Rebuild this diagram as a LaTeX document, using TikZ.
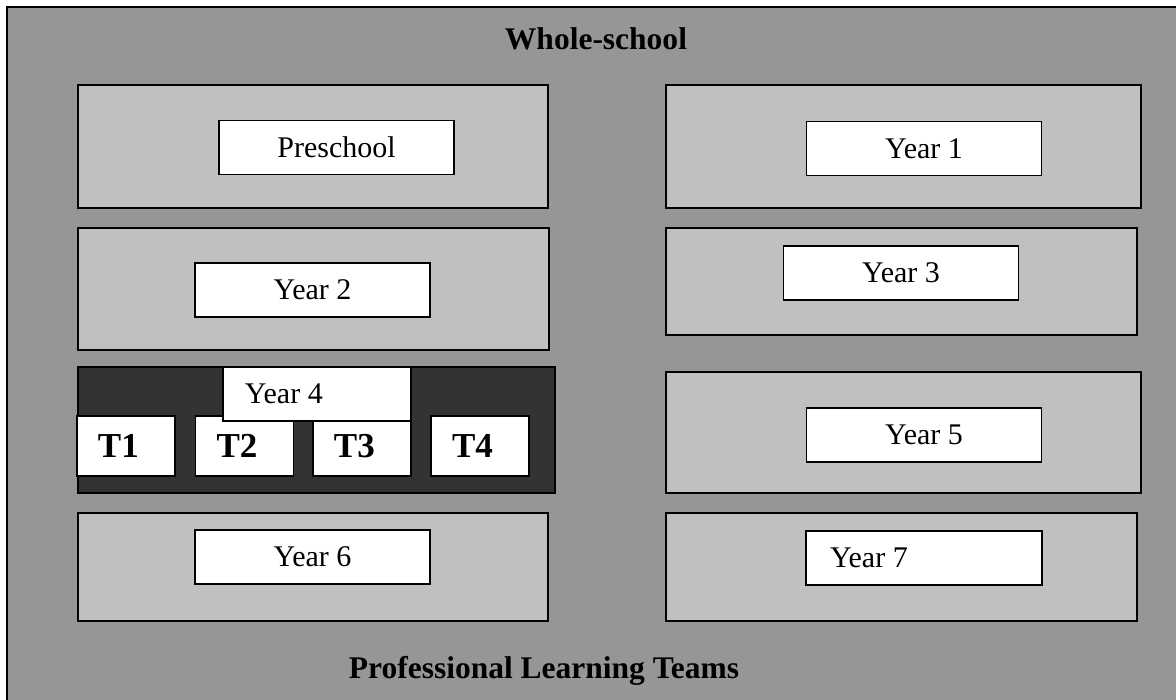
\documentclass[tikz,border=0pt]{standalone}
\usepackage{fontspec}
\setmainfont{Liberation Serif}
\definecolor{schoolgray}{RGB}{150,150,150}
\definecolor{teamgray}{RGB}{192,192,192}
\definecolor{yearfour}{RGB}{51,51,51}

\begin{document}
\begin{tikzpicture}[x=0.4pt,y=-0.4pt,
    team node/.style={rectangle,draw,fill=teamgray,line width=0.8pt,inner sep=0pt},
    label node/.style={rectangle,draw,fill=white,line width=0.6pt,minimum width=94pt,minimum height=21.6pt,inner sep=0pt,font=\fontsize{12}{14}\selectfont},
    left label/.style={label node,text width=75.2pt,inner xsep=9.6pt,align=flush left},
    t node/.style={rectangle,draw,fill=white,line width=0.6pt,minimum height=24pt,text width=22.4pt,inner xsep=8.4pt,inner ysep=0pt,align=flush left,font=\bfseries\fontsize{14}{16}\selectfont},
    title node/.style={inner sep=0pt,font=\bfseries\fontsize{12.6}{15}\selectfont}]
   \useasboundingbox (0,0) rectangle (1176,700);
   \clip (0,0) rectangle (1176,700);
   % whole-school frame
   \draw[fill=schoolgray,line width=0.8pt] (7,7) rectangle (1200,720);
   \node[title node,anchor=base] (ws) at (596,49) {Whole-school};
   \node[title node,anchor=base] (plt) at (544,678) {Professional Learning Teams};
   % left column
   \node[team node,minimum width=188pt,minimum height=49.2pt] (pre) at (313,146.5) {};
   \node[label node] (prel) at (336.5,147.5) {Preschool};
   \node[team node,minimum width=188.4pt,minimum height=48.8pt] (y2) at (313.5,289) {};
   \node[label node] (y2l) at (312.5,290) {Year 2};
   \node[team node,fill=yearfour,minimum width=190.8pt,minimum height=50.4pt] (y4) at (316.5,430) {};
   \node[t node] (t1) at (126,446) {T1};
   \node[t node] (t2) at (244.5,446) {T2};
   \node[t node] (t3) at (362,446) {T3};
   \node[t node] (t4) at (480,446) {T4};
   \node[left label,minimum width=75.2pt,text width=57.6pt,inner xsep=8.8pt] (y4l) at (317,394) {Year 4};
   \node[team node,minimum width=188pt,minimum height=43.2pt] (y6) at (313,567) {};
   \node[label node] (y6l) at (312.5,557) {Year 6};
   % right column
   \node[team node,minimum width=190pt,minimum height=49.2pt] (y1) at (903.5,146.5) {};
   \node[label node] (y1l) at (924,148.5) {Year 1};
   \node[team node,minimum width=188.4pt,minimum height=42.8pt] (y3) at (901.5,281.5) {};
   \node[label node] (y3l) at (901,273) {Year 3};
   \node[team node,minimum width=190pt,minimum height=48.4pt] (y5) at (903.5,432.5) {};
   \node[label node] (y5l) at (924,435) {Year 5};
   \node[team node,minimum width=188.4pt,minimum height=43.2pt] (y7) at (901.5,567) {};
   \node[left label] (y7l) at (924,558) {Year 7};
\end{tikzpicture}
\end{document}
